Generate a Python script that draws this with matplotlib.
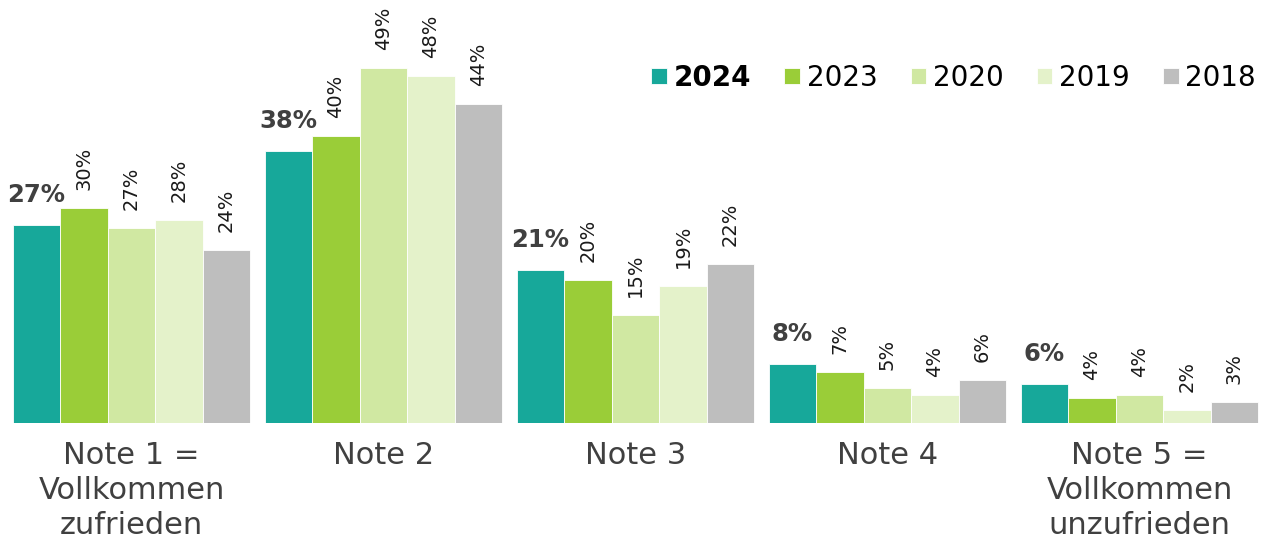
import numpy as np
import matplotlib
matplotlib.use('Agg')
import matplotlib.pyplot as plt

# Kategorien und Werte (in %)
categories = ['Note 1 =\nVollkommen\nzufrieden', 'Note 2', 'Note 3', 'Note 4',
              'Note 5 =\nVollkommen\nunzufrieden']
years = ['2024', '2023', '2020', '2019', '2018']

v2024 = [27.5, 37.8, 21.3, 8.2, 5.4]
v2023 = [29.9, 39.9, 19.9, 7.1, 3.5]
v2020 = [27.1, 49.3, 15.0, 4.9, 3.9]
v2019 = [28.2, 48.2, 19.0, 3.9, 1.8]
v2018 = [24.0, 44.3, 22.1, 6.0, 2.9]

l2024 = ['27%', '38%', '21%', '8%', '6%']
l2023 = ['30%', '40%', '20%', '7%', '4%']
l2020 = ['27%', '49%', '15%', '5%', '4%']
l2019 = ['28%', '48%', '19%', '4%', '2%']
l2018 = ['24%', '44%', '22%', '6%', '3%']

colors = ['#17a89a', '#9acd38', '#d0e8a2', '#e4f2ca', '#bebebe']

series = [v2024, v2023, v2020, v2019, v2018]
labels = [l2024, l2023, l2020, l2019, l2018]

plt.rcParams['font.family'] = 'DejaVu Sans'

fig = plt.figure(figsize=(12.71, 5.43), dpi=100)
ax = fig.add_axes([0, 120 / 543, 1, 423 / 543])

x = np.arange(len(categories))
w = 0.1885
for i, (vals, labs) in enumerate(zip(series, labels)):
    pos = x + (i - 2) * w
    bars = ax.bar(pos, vals, width=w, color=colors[i], edgecolor='white',
                  linewidth=0.6, label=years[i])
    for b, lab in zip(bars, labs):
        cx = b.get_x() + b.get_width() / 2
        if i == 0:
            ax.annotate(lab, (cx, b.get_height()), xytext=(0, 13),
                        textcoords='offset points', ha='center', va='bottom',
                        fontsize=17.5, fontweight='bold', color='#404040')
        else:
            ax.annotate(lab, (cx, b.get_height()), xytext=(0, 13),
                        textcoords='offset points', ha='center', va='bottom',
                        rotation=90, fontsize=14, color='#1a1a1a')

ax.set_xlim(-0.522, 4.522)
ax.set_ylim(0, 58.75)
ax.set_xticks(x)
ax.set_xticklabels(categories, fontsize=22, color='#404040', linespacing=1.25)
ax.tick_params(axis='x', length=0, pad=13)
ax.set_yticks([])
for s in ax.spines.values():
    s.set_visible(False)

leg = ax.legend(loc='center right', bbox_to_anchor=(0.997, 0.816), ncol=5,
                frameon=False, fontsize=20, handlelength=0.55, handleheight=0.55,
                handletextpad=0.25, columnspacing=1.2, borderaxespad=0)
for t in leg.get_texts():
    t.set_color('black')
leg.get_texts()[0].set_fontweight('bold')

fig.savefig('out.png', dpi=100)
